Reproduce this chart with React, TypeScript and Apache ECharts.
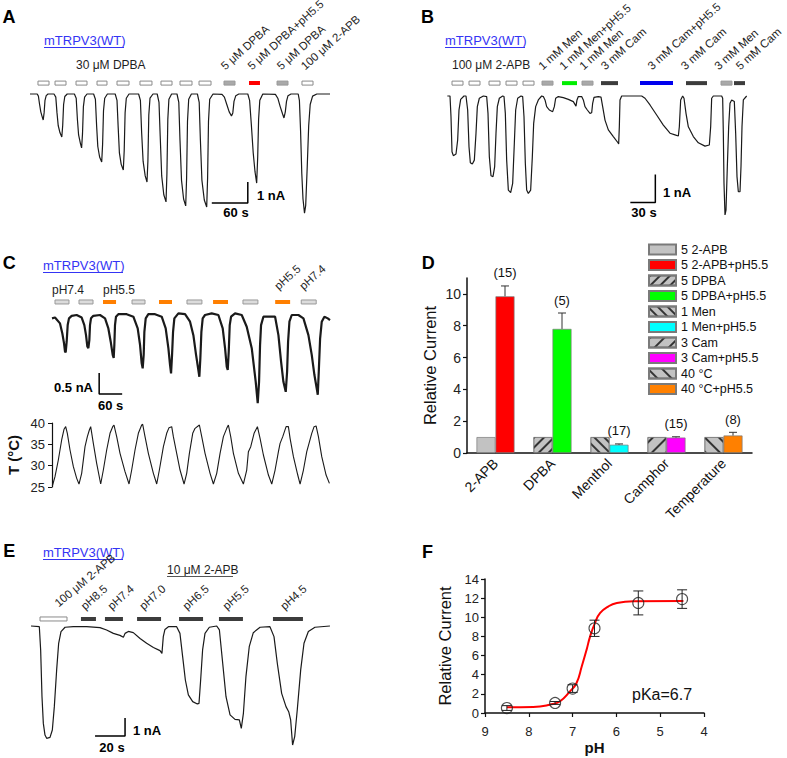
import React, { useEffect, useRef } from "react";
import * as echarts from "echarts";

const FONT = "'Liberation Sans', Arial, Helvetica, sans-serif";
const BLUE = "#3434f4";

// ---------------- Panel A (time s, current nA) ----------------
const traceA = [
  [0, 0], [12, 0], [14, -0.1], [16, -0.5], [18, -0.85], [20, -1.05], [22, -1.24], [23.5, -0.9], [25, -0.3], [27, -0.08], [30, 0],
  [40, 0], [43, -0.15], [45, -0.9], [47, -1.5], [50, -1.85], [53, -2.05], [54.5, -1.5], [56, -0.5], [58, -0.12], [62, 0],
  [74, 0], [77, -0.2], [79, -1.2], [81, -1.95], [84, -2.35], [86, -2.57], [87.5, -1.9], [89, -0.6], [91, -0.15], [95, 0],
  [106, 0], [109, -0.25], [111, -1.5], [113, -2.5], [116, -3.0], [119.5, -3.24], [121, -2.4], [122.5, -0.8], [124.5, -0.2], [129, 0],
  [142, 0], [145, -0.3], [147, -1.6], [149, -2.8], [152, -3.35], [155.5, -3.62], [157, -2.7], [158.5, -0.9], [160.5, -0.2], [165, 0],
  [181, 0], [184, -0.3], [186, -1.8], [188.5, -3.2], [192, -3.9], [195, -4.19], [196.5, -3.2], [198, -1.0], [200, -0.2], [205, 0],
  [212, 0], [215, -0.4], [217, -2.0], [219.5, -3.9], [223, -4.8], [226.7, -5.14], [228.2, -3.8], [229.7, -1.2], [231.5, -0.25], [236, 0],
  [245, 0], [248, -0.4], [250, -2.2], [252.5, -4.1], [256, -5.0], [259.5, -5.33], [261, -4.0], [262.5, -1.3], [264.5, -0.25], [269, 0],
  [279, 0], [282, -0.4], [284, -2.2], [286.5, -4.1], [290.5, -5.05], [294.5, -5.38], [296, -4.0], [297.5, -1.3], [299.5, -0.25], [305, 0],
  [320, -0.02], [324, -0.15], [328, -0.5], [332, -0.85], [335.8, -1.05], [338, -0.9], [340, -0.35], [343, -0.08], [348, 0],
  [363, 0], [366, -0.3], [369, -1.5], [372, -2.8], [375, -3.7], [377.8, -4.24], [379.5, -3.0], [381, -1.2], [383, -0.3], [388, 0],
  [409, -0.02], [413, -0.2], [417, -0.6], [421, -0.95], [423.3, -1.14], [425.5, -0.85], [427.5, -0.35], [430, -0.08], [435, 0],
  [447, 0], [449, -0.3], [451, -1.8], [453, -3.8], [455, -5.0], [457.5, -5.67], [459.5, -5.3], [462, -3.5], [464.5, -1.5], [467, -0.5], [471, -0.1], [478, 0], [500, 0],
];
const stimA = [
  [13.3, 31.7], [41.7, 60], [76.7, 95], [111.7, 128.3], [145, 165], [183.3, 203.3], [218.3, 236.7],
  [250, 270], [281.7, 301.7], [323.3, 341.7], [365, 383.3], [411.7, 430], [453.3, 471.7],
];
const stimAKind = ["open", "open", "open", "open", "open", "open", "open", "open", "open", "gray", "red", "gray", "open"];
const scaleA = [[303, -5.19], [363, -5.19], [363, -4.19]];

// ---------------- Panel B ----------------
const traceB = [
  [0.4, 0], [3.6, 0], [4.8, -0.74], [6.0, -1.99], [7.6, -2.13], [10.8, -2.07], [12.8, -1.57], [14.4, -0.5], [16.4, -0.12], [20.4, 0],
  [22.8, 0], [24.8, -0.5], [26.4, -1.81], [28, -2.38], [30.4, -2.43], [32.8, -2.29], [34.8, -1.33], [36.4, -0.38], [38.8, -0.08], [43.6, 0],
  [47.6, -0.02], [49.2, -0.62], [50.8, -2.17], [52.8, -2.85], [55.2, -2.88], [57.2, -2.52], [58.8, -1.33], [60.4, -0.38], [62.8, -0.08], [66.8, 0],
  [68.4, -0.02], [70, -0.62], [71.6, -2.29], [73.6, -3.36], [76.4, -3.45], [78.8, -3.12], [80.8, -1.69], [82.4, -0.5], [84.8, -0.08], [88.8, 0],
  [90.8, -0.02], [92.4, -0.74], [94, -2.4], [95.6, -3.36], [97.6, -3.48], [100.4, -3.36], [102.4, -2.17], [104, -0.98], [106.4, -0.38], [109.6, -0.14], [113.6, 0],
  [115.6, -0.02], [117.6, -0.14], [119.6, -0.38], [122.8, -0.5], [126.8, -0.56], [128.8, -0.38], [130.4, -0.08], [133.6, -0.02],
  [139.6, -0.06], [145.6, -0.12], [151.6, -0.2], [154.8, -0.36], [156, -0.14], [157.6, -0.02], [161.6, -0.02],
  [163.6, -0.14], [165.6, -0.38], [168.4, -0.5], [171.6, -0.62], [173.6, -0.6], [174.8, -0.26], [176.4, -0.05], [181.6, -0.02],
  [184.8, -0.04], [186.8, -0.38], [189.6, -0.86], [193.6, -1.21], [199.6, -1.45], [205.2, -1.67], [206, -1.71], [206.8, -1.1], [207.6, -0.14], [209.6, 0],
  [233.6, 0], [237.6, -0.08], [243.6, -0.32], [251.6, -0.68], [259.6, -1.04], [267.6, -1.33], [273.6, -1.39], [277.6, -1.43], [278.8, -1.1], [280.4, -0.14], [282.8, 0],
  [284.4, -0.08], [286.8, -0.62], [289.6, -1.1], [295.6, -1.45], [301.6, -1.67], [309.6, -1.79], [314.8, -1.75], [316.4, -1.1], [317.6, -0.08], [319.6, 0],
  [329.6, 0], [330.8, -0.08], [331.6, -1.33], [332.4, -3.12], [333.6, -4.25], [334.8, -4.08], [336.4, -2.52], [338, -1.1], [339.6, -0.26], [341.6, -0.14],
  [344.8, -0.2], [346.4, -1.33], [348, -2.88], [349.6, -3.42], [351.6, -3.42], [352.8, -2.52], [354, -1.1], [355.6, -0.14], [359.6, 0],
];
const stimB = [
  [6, 19.2], [26.4, 39.6], [50.4, 63.6], [70.8, 84], [91.2, 104.4], [114, 127.2], [138, 156], [162, 175.2],
  [184.8, 205.2], [231.6, 271.2], [286.8, 312], [328.8, 342], [344.4, 357.6],
];
const stimBKind = ["open", "open", "open", "open", "open", "gray", "green", "gray", "dark", "blue", "dark", "gray", "dark"];
const scaleB = [[220, -3.8], [250, -3.8], [250, -2.8]];

// ---------------- Panel C ----------------
const traceC = [
  [0, -0.08], [7.8, -0.06], [20.9, -0.2], [27, -0.44], [31.3, -0.67], [33.9, -0.87], [35.7, -0.89], [38.3, -0.63], [40.9, -0.24], [44.3, -0.08], [51.3, -0.02], [64.3, 0],
  [77.4, -0.06], [84.3, -0.24], [88.7, -0.48], [92.2, -0.75], [94.8, -0.79], [97.4, -0.6], [99.1, -0.24], [101.7, -0.08], [107.8, -0.02], [125.2, 0],
  [138.3, -0.08], [147, -0.32], [153, -0.63], [158.3, -0.95], [160.9, -1.02], [162.6, -0.71], [164.3, -0.24], [166.9, -0.04], [173, 0.02], [194.8, 0.02],
  [212.2, -0.04], [223.5, -0.32], [229.6, -0.71], [233.9, -1.15], [236.5, -1.27], [239.1, -0.95], [240.9, -0.4], [244.4, -0.08], [251.3, 0.02], [268.7, 0.02],
  [286.1, -0.04], [296.5, -0.32], [303.5, -0.79], [307.8, -1.19], [310.5, -1.39], [313.1, -0.95], [315.7, -0.4], [319.1, -0.08], [329.6, 0.04], [347, 0.02],
  [360, -0.16], [368.7, -0.48], [375.7, -0.95], [381.7, -1.31], [384.3, -1.47], [386.9, -1.03], [389.6, -0.4], [393, -0.08], [399.1, 0], [416.5, 0.04],
  [433.9, 0], [445.2, -0.32], [451.3, -0.79], [455.7, -1.23], [458.3, -1.31], [460.9, -0.87], [463.5, -0.24], [467, -0.04], [477.4, 0.04], [494.8, 0],
  [507.8, -0.28], [520.9, -0.79], [531.3, -1.59], [536.5, -2.1], [540, -1.59], [542.6, -0.71], [545.2, -0.24], [551.3, -0.04], [564.4, -0.04], [581.8, -0.04],
  [590.5, -0.48], [597.4, -1.11], [603.5, -1.59], [609.6, -1.83], [613.1, -1.35], [615.7, -0.63], [619.2, -0.16], [625.2, 0], [642.6, 0],
  [655.7, -0.08], [668.7, -0.48], [677.4, -0.95], [684.4, -1.43], [690.4, -1.75], [693.1, -1.9], [695.7, -1.35], [699.2, -0.56], [703.5, -0.16], [710.4, -0.04], [719.2, -0.08], [725, -0.12],
];
const stimC = [
  [7.8, 44.3], [70.4, 107], [133, 167], [208.7, 242.6], [279, 313], [352, 391], [420, 459], [498, 537], [582, 621], [650, 689],
];
const stimCKind = ["lgray", "lgray", "orange", "lgray", "orange", "lgray", "orange", "lgray", "orange", "lgray"];
const scaleC = [[123, -1.38], [123, -1.88], [183, -1.88]];

const tempC = [
  [0.9, 25.23], [7.8, 27.42], [16.5, 31.33], [25.2, 36.02], [31.3, 38.52], [35.7, 39.14], [40, 37.58], [47, 33.67], [55.7, 29.77], [64.4, 27.03], [70.4, 25.7],
  [77.4, 28.2], [86.1, 34.45], [92.2, 36.8], [97.4, 38.36], [100.9, 39.14], [107.8, 35.23], [116.5, 30.55], [127, 25.7],
  [133.9, 28.98], [142.6, 33.67], [151.3, 37.58], [158.3, 39.14], [161.7, 39.53], [168.7, 36.8], [177.4, 32.89], [190.4, 28.59], [200.9, 25.7],
  [207.8, 28.98], [216.5, 33.67], [225.2, 37.58], [233.9, 39.53], [236.5, 39.69], [242.6, 36.8], [251.3, 32.89], [264.4, 28.2], [273.1, 25.7],
  [280, 28.98], [290.5, 34.45], [299.1, 37.58], [305.2, 38.91], [312.2, 39.14], [316.5, 36.8], [325.2, 32.89], [333.9, 28.98], [344.4, 25.7],
  [351.3, 28.2], [358.3, 32.89], [367, 37.58], [373.1, 38.75], [384.4, 39.53], [390.5, 36.8], [399.1, 32.89], [412.2, 28.2], [420.9, 25.7],
  [429.6, 28.2], [438.3, 32.89], [447, 36.8], [455.7, 38.75], [460, 39.53], [466.1, 36.8], [473.1, 32.89], [486.1, 28.2], [499.1, 25.7],
  [507.8, 28.98], [512.2, 33.28], [518.3, 34.45], [527, 37.58], [535.7, 39.14], [542.6, 36.41], [551.3, 32.5], [564.4, 27.81], [573.1, 25.7],
  [581.8, 28.98], [590.5, 33.28], [594.8, 35.23], [601.8, 36.8], [610.5, 39.14], [616.5, 39.14], [620.9, 36.41], [629.6, 32.11], [640.9, 27.81], [647, 25.7],
  [655.7, 28.98], [664.4, 33.28], [677.4, 37.58], [683.5, 39.14], [688.7, 39.3], [694.8, 36.8], [703.5, 32.11], [714.8, 27.81], [723.5, 25.86],
];
const tempTicks = [25, 30, 35, 40];

// ---------------- Panel D ----------------
const categoriesD = ["2-APB", "DPBA", "Menthol", "Camphor", "Temperature"];
const controlNames = ["5 2-APB", "5 DPBA", "1 Men", "3 Cam", "40 °C"];
const acidNames = ["5 2-APB+pH5.5", "5 DPBA+pH5.5", "1 Men+pH5.5", "3 Cam+pH5.5", "40 °C+pH5.5"];
const controlValues = [1, 1, 1, 1, 1];
const acidValues = [9.85, 7.8, 0.52, 0.97, 1.1];
const acidErrors = [0.65, 1.0, 0.05, 0.05, 0.2];
const nCounts = ["(15)", "(5)", "(17)", "(15)", "(8)"];
const acidColors = ["#ff0000", "#00ff00", "#00ffff", "#ff00ff", "#ff8000"];
const hatchKind = ["none", "fwdDense", "backDense", "fwdSparse", "backSparse"];
const yTicksD = [0, 2, 4, 6, 8, 10];

// ---------------- Panel E ----------------
const traceE = [
  [0, 0], [5.55, -0.04], [6.44, -1.33], [7.33, -3.93], [8.22, -5.41], [9.33, -6.06], [10.44, -6.24], [12.67, -6.19], [14.22, -5.78],
  [15.55, -4.48], [17.1, -2.44], [18.44, -0.96], [20, -0.31], [22.7, -0.07], [28.2, -0.04], [37.1, -0.04], [46, -0.09],
  [50.4, -0.22], [54.9, -0.41], [59.3, -0.52], [61.6, -0.63], [62.7, -0.41], [64.9, -0.3], [68.2, -0.37], [72.7, -0.69],
  [77.1, -0.96], [81.6, -1.19], [86, -1.37], [87.3, -1.52], [88.2, -0.59], [89.3, -0.19], [91.6, -0.04], [97.1, -0.04],
  [99.3, -0.41], [101.1, -1.7], [102.9, -3.0], [104.9, -3.83], [107.8, -4.2], [110.9, -4.33], [112, -4.3], [113.1, -3.0],
  [114.4, -1.33], [116, -0.41], [118.9, -0.07], [123.8, 0], [125.6, -0.22], [127.8, -2.07], [130, -3.93], [132.7, -4.94],
  [136, -5.19], [138.9, -5.22], [140.2, -5.69], [141.6, -4.85], [143.3, -2.81], [145.5, -1.15], [148.2, -0.37], [152.7, -0.07],
  [159.3, -0.04], [162, -0.59], [164.2, -2.07], [167.1, -3.74], [170, -4.48], [171.8, -4.76], [173.1, -5.22], [174.4, -6.61],
  [175.8, -6.15], [177.5, -4.67], [179.8, -2.44], [182, -0.96], [184.9, -0.31], [189.3, -0.07], [199.3, 0],
];
const stimE = [[6, 24], [33.3, 43.3], [49.3, 61.3], [70.7, 86.7], [98.7, 114.7], [125.3, 141.3], [161.3, 181.3]];
const stimEKind = ["open", "dark", "dark", "dark", "dark", "dark", "dark"];
const scaleE = [[42.7, -6.11], [62.7, -6.11], [62.7, -5.11]];

// ---------------- Panel F ----------------
const phF = [8.5, 7.4, 7.0, 6.5, 5.5, 4.5];
const meanF = [0.52, 1.05, 2.55, 8.85, 11.5, 11.9];
const errF = [0.25, 0.15, 0.4, 0.85, 1.25, 0.97];
const fitF = [
  [8.5, 0.59], [7.9, 0.63], [7.52, 0.87], [7.29, 1.22], [7.06, 2.26], [6.91, 3.13], [6.79, 4.88], [6.68, 6.62],
  [6.6, 8.01], [6.49, 9.4], [6.37, 10.45], [6.18, 11.15], [5.99, 11.49], [5.61, 11.67], [4.47, 11.7],
];
const xTicksF = [4, 5, 6, 7, 8, 9];

const STIM_STYLE: Record<string, { fill: string; stroke?: string }> = {
  open: { fill: "#ffffff", stroke: "#8a8a8a" },
  gray: { fill: "#a9a9a9", stroke: "#9a9a9a" },
  lgray: { fill: "#dcdcdc", stroke: "#9a9a9a" },
  red: { fill: "#ff0000" },
  green: { fill: "#00ee00" },
  blue: { fill: "#0000ee" },
  dark: { fill: "#3c3c3c" },
  orange: { fill: "#ff7f00" },
};

function stimSeries(idx: number, data: number[][], kinds: string[], level: number, h: number) {
  return {
    type: "custom",
    xAxisIndex: idx,
    yAxisIndex: idx,
    silent: true,
    clip: false,
    data: data.map((d) => [d[0], d[1], level]),
    encode: { x: [0, 1], y: 2 },
    renderItem: (params: any, api: any) => {
      const p1 = api.coord([api.value(0), api.value(2)]);
      const p2 = api.coord([api.value(1), api.value(2)]);
      const st = STIM_STYLE[kinds[params.dataIndex]];
      return {
        type: "rect",
        shape: { x: p1[0], y: p1[1] - h / 2, width: p2[0] - p1[0], height: h },
        style: { fill: st.fill, stroke: st.stroke || st.fill, lineWidth: st.stroke ? 1 : 0 },
      };
    },
  };
}

function lineSeries(idx: number, data: number[][], width: number, color = "#1a1a1a", smooth = false) {
  return {
    type: "line",
    xAxisIndex: idx,
    yAxisIndex: idx,
    data,
    symbol: "none",
    silent: true,
    smooth,
    clip: false,
    lineStyle: { color, width },
  };
}

function hiddenAxes(idx: number, xmin: number, xmax: number, ymin: number, ymax: number) {
  return {
    x: { gridIndex: idx, type: "value", min: xmin, max: xmax, show: false },
    y: { gridIndex: idx, type: "value", min: ymin, max: ymax, show: false },
  };
}

function decalFor(kind: string) {
  if (kind === "none") return undefined;
  const fwd = kind.startsWith("fwd");
  const dense = kind.endsWith("Dense");
  return {
    symbol: "rect",
    symbolSize: 1,
    color: "#333333",
    dashArrayX: [1, 0],
    dashArrayY: dense ? [1.3, 5] : [1.3, 8],
    rotation: fwd ? -Math.PI / 4 : Math.PI / 4,
  };
}

function txt(x: number, y: number, text: string, o: any = {}) {
  const size = o.size || 12;
  const weight = o.bold ? "bold" : "normal";
  const align = o.align || "left";
  const valign = o.valign || "middle";
  return {
    type: "text",
    x,
    y,
    rotation: o.rot || 0,
    silent: true,
    style: {
      text,
      fill: o.color || "#1e1e1e",
      font: `${weight} ${size}px ${FONT}`,
      fontSize: size,
      fontWeight: weight,
      fontFamily: FONT,
      align,
      verticalAlign: valign,
      textAlign: align,
      textVerticalAlign: valign,
    },
  };
}

function hline(x1: number, x2: number, y: number, color: string) {
  return { type: "line", silent: true, shape: { x1, y1: y, x2, y2: y }, style: { stroke: color, lineWidth: 1 } };
}

export default function App() {
  const ref = useRef<HTMLDivElement>(null);

  useEffect(() => {
    if (!ref.current) return;
    const chart = echarts.init(ref.current, undefined, { renderer: "svg" });

    const axA = hiddenAxes(0, 0, 500, -6, 1);
    const axB = hiddenAxes(1, 0, 360, -4.5, 1);
    const axC = hiddenAxes(2, 0, 725, -2.5, 0.5);
    const axE = hiddenAxes(5, 0, 200, -7, 1);

    const axisLine = { show: true, lineStyle: { color: "#111", width: 1.5 } };
    const rot = (42 * Math.PI) / 180;
    const rotE = (40 * Math.PI) / 180;
    const R = { rot, valign: "bottom", size: 11.5 };
    const RE = { rot: rotE, valign: "bottom", size: 11.5 };

    const graphics: any[] = [
      txt(9, 16.5, "A", { size: 18, bold: true, align: "center", color: "#000" }),
      txt(427.5, 16.7, "B", { size: 18, bold: true, align: "center", color: "#000" }),
      txt(9.2, 263.3, "C", { size: 18, bold: true, align: "center", color: "#000" }),
      txt(428.3, 262.5, "D", { size: 18, bold: true, align: "center", color: "#000" }),
      txt(9.2, 550.8, "E", { size: 18, bold: true, align: "center", color: "#000" }),
      txt(427.5, 551.7, "F", { size: 18, bold: true, align: "center", color: "#000" }),
      // mTRPV3(WT) headers
      txt(44, 40, "mTRPV3(WT)", { size: 13, color: BLUE }),
      hline(44, 124, 47.5, BLUE),
      txt(445, 40, "mTRPV3(WT)", { size: 13, color: BLUE }),
      hline(445, 525, 47.5, BLUE),
      txt(43, 265, "mTRPV3(WT)", { size: 13, color: BLUE }),
      hline(43, 123, 272.5, BLUE),
      txt(43, 552, "mTRPV3(WT)", { size: 13, color: BLUE }),
      hline(43, 123, 559.5, BLUE),
      // A labels
      txt(76, 65, "30 μM DPBA"),
      txt(226.7, 72, "5 μM DPBA", R),
      txt(253.3, 72, "5 μM DPBA+pH5.5", R),
      txt(282.7, 72, "5 μM DPBA", R),
      txt(306.7, 72, "100 μM 2-APB", R),
      txt(257, 195, "1 nA", { size: 13, bold: true, color: "#000" }),
      txt(236, 212, "60 s", { size: 13, bold: true, align: "center", color: "#000" }),
      // B labels
      txt(452, 65, "100 μM 2-APB"),
      txt(544, 72, "1 mM Men", R),
      txt(565, 72, "1 mM Men+pH5.5", R),
      txt(585, 72, "1 mM Men", R),
      txt(606.7, 72, "3 mM Cam", R),
      txt(653.3, 72, "3 mM Cam+pH5.5", R),
      txt(686.7, 72, "3 mM Cam", R),
      txt(720, 72, "3 mM Men", R),
      txt(741.7, 72, "5 mM Cam", R),
      txt(663, 192, "1 nA", { size: 13, bold: true, color: "#000" }),
      txt(644, 212, "30 s", { size: 13, bold: true, align: "center", color: "#000" }),
      // C labels
      txt(52, 290, "pH7.4"),
      txt(103, 290, "pH5.5"),
      txt(280, 292, "pH5.5", R),
      txt(305, 292, "pH7.4", R),
      txt(93, 387, "0.5 nA", { size: 13, bold: true, align: "right", color: "#000" }),
      txt(98, 405, "60 s", { size: 13, bold: true, color: "#000" }),
      // E labels
      txt(167, 570, "10 μM 2-APB"),
      hline(167, 233, 576.5, "#555"),
      txt(60, 609, "100 μM 2-APB", RE),
      txt(86.7, 612, "pH8.5", R),
      txt(113.3, 612, "pH7.4", R),
      txt(145, 612, "pH7.0", R),
      txt(188.3, 612, "pH6.5", R),
      txt(228.3, 612, "pH5.5", R),
      txt(286, 612, "pH4.5", R),
      txt(133, 730, "1 nA", { size: 13, bold: true, color: "#000" }),
      txt(112, 747, "20 s", { size: 13, bold: true, align: "center", color: "#000" }),
      // F
      txt(632, 694, "pKa=6.7", { size: 16, color: "#111" }),
    ];

    const barSeries: any[] = [];
    controlNames.forEach((name, i) => {
      const d = categoriesD.map((_, j) => (j === i ? controlValues[i] : "-"));
      const decal = decalFor(hatchKind[i]);
      barSeries.push({
        type: "bar",
        name,
        xAxisIndex: 4,
        yAxisIndex: 4,
        stack: "ctrl",
        barWidth: 19,
        barGap: "0%",
        data: d,
        silent: true,
        itemStyle: { color: "#c2c2c2", borderColor: "#7a7a7a", borderWidth: 0.7, ...(decal ? { decal } : {}) },
      });
      barSeries.push({
        type: "bar",
        name: acidNames[i],
        xAxisIndex: 4,
        yAxisIndex: 4,
        stack: "acid",
        barWidth: 19,
        barGap: "0%",
        data: categoriesD.map((_, j) => (j === i ? acidValues[i] : "-")),
        silent: true,
        itemStyle: { color: acidColors[i], borderColor: "#7a7a7a", borderWidth: 0.7 },
      });
    });

    const BAR_W = 19;
    const errD = {
      type: "custom",
      xAxisIndex: 4,
      yAxisIndex: 4,
      silent: true,
      z: 5,
      data: acidValues.map((v, i) => [i, v, acidErrors[i]]),
      encode: { x: 0, y: 1 },
      renderItem: (params: any, api: any) => {
        const i = api.value(0);
        const v = api.value(1);
        const e = api.value(2);
        const base = api.coord([i, v]);
        const top = api.coord([i, v + e]);
        const x = base[0] + BAR_W / 2;
        return {
          type: "group",
          children: [
            { type: "line", shape: { x1: x, y1: base[1], x2: x, y2: top[1] }, style: { stroke: "#333", lineWidth: 1 } },
            { type: "line", shape: { x1: x - 4, y1: top[1], x2: x + 4, y2: top[1] }, style: { stroke: "#333", lineWidth: 1 } },
            {
              type: "text",
              x,
              y: top[1] - 13,
              style: {
                text: nCounts[params.dataIndex],
                fill: "#111",
                font: `13px ${FONT}`,
                align: "center",
                verticalAlign: "middle",
                textAlign: "center",
                textVerticalAlign: "middle",
              },
            },
          ],
        };
      },
    };

    const errFSeries = {
      type: "custom",
      xAxisIndex: 6,
      yAxisIndex: 6,
      silent: true,
      z: 4,
      data: phF.map((p, i) => [p, meanF[i], errF[i]]),
      encode: { x: 0, y: 1 },
      renderItem: (params: any, api: any) => {
        const p = api.value(0);
        const m = api.value(1);
        const e = api.value(2);
        const lo = api.coord([p, m - e]);
        const hi = api.coord([p, m + e]);
        const x = lo[0];
        const st = { stroke: "#222", lineWidth: 1 };
        return {
          type: "group",
          children: [
            { type: "line", shape: { x1: x, y1: lo[1], x2: x, y2: hi[1] }, style: st },
            { type: "line", shape: { x1: x - 5, y1: lo[1], x2: x + 5, y2: lo[1] }, style: st },
            { type: "line", shape: { x1: x - 5, y1: hi[1], x2: x + 5, y2: hi[1] }, style: st },
          ],
        };
      },
    };

    const option: any = {
      animation: false,
      backgroundColor: "#ffffff",
      textStyle: { fontFamily: FONT },
      grid: [
        { left: 30, top: 73, width: 300, height: 147 },
        { left: 447, top: 68, width: 300, height: 154 },
        { left: 52, top: 294, width: 278, height: 126 },
        { left: 52, top: 423, width: 278, height: 64 },
        { left: 467, top: 278, width: 285, height: 175 },
        { left: 31, top: 608, width: 300, height: 144 },
        { left: 485, top: 579, width: 219, height: 134 },
      ],
      xAxis: [
        axA.x,
        axB.x,
        axC.x,
        { gridIndex: 3, type: "value", min: 0, max: 725, show: false },
        {
          gridIndex: 4,
          type: "category",
          data: categoriesD,
          axisLine,
          axisTick: { show: false },
          axisLabel: { rotate: 45, fontSize: 14, color: "#111", margin: 8, fontFamily: FONT },
        },
        axE.x,
        {
          gridIndex: 6,
          type: "value",
          min: 4,
          max: 9,
          interval: 1,
          inverse: true,
          offset: 5,
          axisLine,
          axisTick: { show: true, length: 4, lineStyle: { color: "#111", width: 1.2 } },
          axisLabel: { fontSize: 13, color: "#222", margin: 7, fontFamily: FONT, customValues: xTicksF },
          splitLine: { show: false },
          name: "pH",
          nameLocation: "middle",
          nameGap: 22,
          nameTextStyle: { fontSize: 15, fontWeight: "bold", color: "#111", fontFamily: FONT },
        },
      ],
      yAxis: [
        axA.y,
        axB.y,
        axC.y,
        {
          gridIndex: 3,
          type: "value",
          min: 25,
          max: 40,
          interval: 5,
          axisLine: { show: true, lineStyle: { color: "#111", width: 1.2 } },
          axisTick: { show: true, length: 4, lineStyle: { color: "#111" } },
          axisLabel: { fontSize: 13, color: "#222", margin: 7, fontFamily: FONT, customValues: tempTicks },
          splitLine: { show: false },
          name: "T (°C)",
          nameLocation: "middle",
          nameGap: 31,
          nameRotate: 90,
          nameTextStyle: { fontSize: 15, fontWeight: "bold", color: "#111", fontFamily: FONT },
        },
        {
          gridIndex: 4,
          type: "value",
          min: 0,
          max: 11,
          axisLine,
          axisTick: { show: true, length: 4, lineStyle: { color: "#111", width: 1.2 }, customValues: yTicksD },
          axisLabel: { fontSize: 14, color: "#222", margin: 6, fontFamily: FONT, customValues: yTicksD },
          splitLine: { show: false },
          name: "Relative Current",
          nameLocation: "middle",
          nameGap: 29,
          nameRotate: 90,
          nameTextStyle: { fontSize: 16.5, color: "#111", fontFamily: FONT },
        },
        axE.y,
        {
          gridIndex: 6,
          type: "value",
          min: 0,
          max: 14,
          interval: 2,
          axisLine,
          axisTick: { show: true, length: 4, lineStyle: { color: "#111", width: 1.2 } },
          axisLabel: { fontSize: 13, color: "#222", margin: 6, fontFamily: FONT },
          splitLine: { show: false },
          name: "Relative Current",
          nameLocation: "middle",
          nameGap: 32,
          nameRotate: 90,
          nameTextStyle: { fontSize: 16.5, color: "#111", fontFamily: FONT },
        },
      ],
      legend: {
        orient: "vertical",
        left: 643,
        top: 238,
        itemWidth: 27,
        itemHeight: 10,
        itemGap: 2.5,
        selectedMode: false,
        icon: "rect",
        textStyle: { fontSize: 12.5, color: "#111", fontFamily: FONT },
        data: controlNames.flatMap((n, i) => [n, acidNames[i]]),
      },
      series: [
        lineSeries(0, traceA, 1.2),
        stimSeries(0, stimA, stimAKind, 0.52, 4),
        lineSeries(0, scaleA, 1.5, "#000"),
        lineSeries(1, traceB, 1.2),
        stimSeries(1, stimB, stimBKind, 0.46, 4),
        lineSeries(1, scaleB, 1.5, "#000"),
        lineSeries(2, traceC, 2.2),
        stimSeries(2, stimC, stimCKind, 0.31, 4),
        lineSeries(2, scaleC, 1.5, "#000"),
        lineSeries(3, tempC, 1.1),
        ...barSeries,
        errD,
        lineSeries(5, traceE, 1.2),
        stimSeries(5, stimE, stimEKind, 0.39, 4),
        lineSeries(5, scaleE, 1.5, "#000"),
        lineSeries(6, fitF, 2, "#ff0000", true),
        errFSeries,
        {
          type: "scatter",
          xAxisIndex: 6,
          yAxisIndex: 6,
          silent: true,
          z: 6,
          symbol: "circle",
          symbolSize: 11,
          data: phF.map((p, i) => [p, meanF[i]]),
          itemStyle: { color: "rgba(255,255,255,0)", borderColor: "#222", borderWidth: 1.1 },
        },
      ],
      graphic: graphics,
    };

    chart.setOption(option);
    return () => chart.dispose();
  }, []);

  return (
    <div
      ref={ref}
      style={{ position: "absolute", left: 0, top: 0, width: 787, height: 758, background: "#fff" }}
    />
  );
}
